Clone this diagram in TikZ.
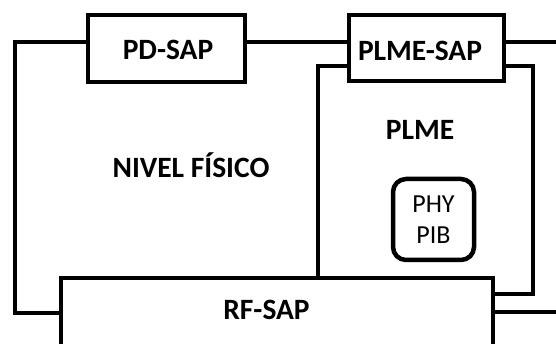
\documentclass[tikz,border=0pt]{standalone}
\usepackage{fontspec}
\setmainfont{Carlito}
\begin{document}
\begin{tikzpicture}[x=1pt,y=-1pt,
  wire/.style={line width=4.5pt},
  sapbox/.style={draw, line width=4.5pt, rectangle, inner sep=0pt},
  boldlbl/.style={font=\fontsize{29.5}{34}\selectfont\bfseries, inner sep=0pt},
  piblbl/.style={font=\fontsize{26}{31.5}\selectfont, align=center, inner sep=0pt}]
\useasboundingbox (0,0) rectangle (556,344);
\clip (0,0) rectangle (556,344);

% service access point boxes
\node[sapbox, minimum width=157pt, minimum height=67pt,
      label={[boldlbl, xshift=1.5pt, yshift=-1.5pt]center:PD-SAP}] (pd) at (166.5,48.5) {};
\node[sapbox, minimum width=155pt, minimum height=66pt,
      label={[boldlbl, xshift=-6.5pt, yshift=-2.5pt]center:PLME-SAP}] (plmesap) at (426.5,48) {};
\node[sapbox, minimum width=432pt, minimum height=90pt] (rf) at (277,323) {};
\node[boldlbl] (rflbl) at (266.5,310) {RF-SAP};

% layer labels
\node[boldlbl] (nivel) at (191,165.5) {NIVEL FÍSICO};
\node[boldlbl] (plme) at (420,130) {PLME};

% PIB box
\node[draw, line width=4.5pt, rounded corners=13pt, minimum width=81pt, minimum height=81pt,
      piblbl] (pib) at (433.5,219.5) {PHY\\PIB};

% wiring
\coordinate (lt) at (15,42);
\coordinate (lb) at (15,313);
\coordinate (re) at (560,42);
\coordinate (pl) at (318,66);
\coordinate (pr) at (533,66);
\coordinate (prb) at (533,294);
\coordinate (rb) at (560,312);

\draw[wire] (pd.west |- lt) -- (lt) -- (lb) -- (rf.west |- lb);
\draw[wire] (pd.east |- lt) -- (plmesap.west |- lt);
\draw[wire] (plmesap.east |- re) -- (re);
\draw[wire] (plmesap.west |- pl) -- (pl) -- (pl |- rf.north);
\draw[wire] (plmesap.east |- pr) -- (pr) -- (prb) -- (rf.east |- prb);
\draw[wire] (rf.east |- rb) -- (rb);
\end{tikzpicture}
\end{document}
